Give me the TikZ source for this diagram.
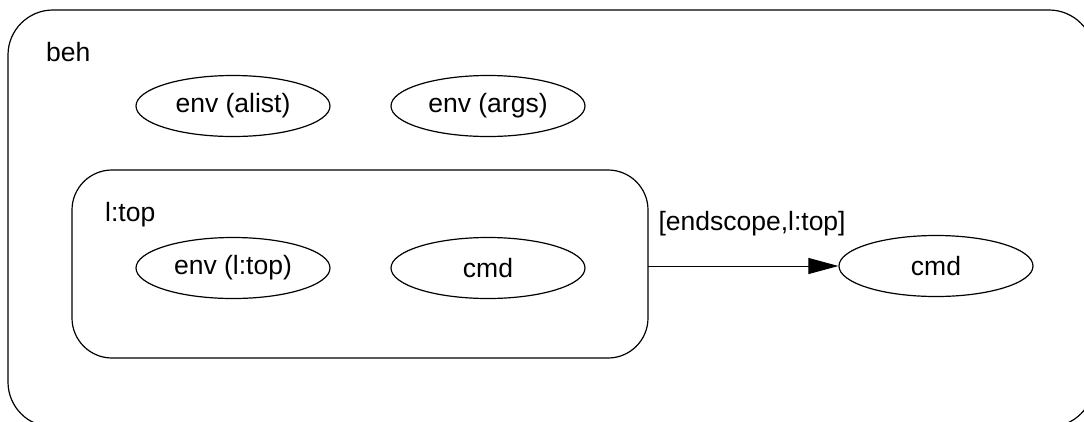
\documentclass[tikz,border=0pt]{standalone}
\usepackage{fontspec}
\setmainfont{Liberation Sans}
\usetikzlibrary{shapes.geometric,arrows.meta}
\begin{document}
\begin{tikzpicture}[x=1pt,y=-1pt,
  every node/.style={font=\fontsize{26.5}{31}\selectfont},
  st/.style={draw,ellipse,line width=1.2pt,minimum width=194pt,minimum height=61pt,inner sep=0pt},
  lbl/.style={anchor=west,inner sep=0pt},
  clusterbox/.style={draw,line width=1.2pt}]
\useasboundingbox (0,0) rectangle (1084,421);
\clip (0,0) rectangle (1084,421);
\draw[clusterbox,rounded corners=45pt] (8,10) rectangle (1094,427);
\node[lbl] (beh) at (46,52) {beh};
\node[st] (alist) at (233,106) {env (alist)};
\node[st] (args) at (488,106) {env (args)};
\draw[clusterbox,rounded corners=40pt] (72,170) rectangle (648,358);
\coordinate (ltop) at (648,266);
\node[lbl] (ltoplbl) at (105,215) {l:top};
\node[st] (envl) at (233,268) {env (l:top)};
\node[st] (cmdin) at (488,268) {cmd};
\node[st] (cmdout) at (936,266) {cmd};
\draw[line width=1pt,-{Triangle[length=30pt,width=16pt]}] (ltop) -- (cmdout.west)
  node[pos=0,lbl,anchor=south west,xshift=10pt,yshift=30pt] (elbl) {[endscope,l:top]};
\end{tikzpicture}
\end{document}
